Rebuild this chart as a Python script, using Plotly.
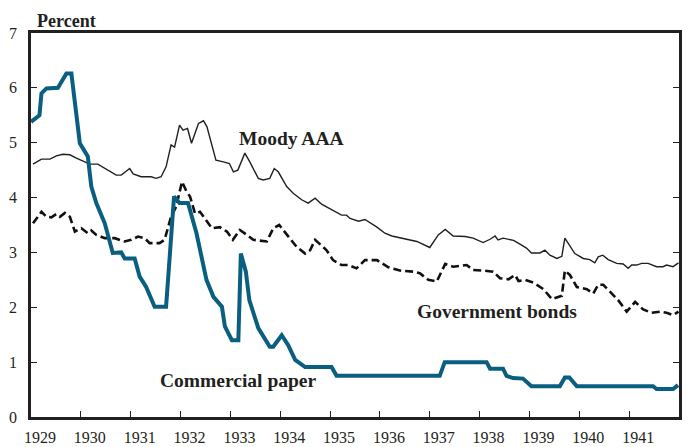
import plotly.graph_objects as go

# Moody AAA
aaa_x = [1929.04, 1929.21, 1929.38, 1929.51, 1929.64, 1929.78, 1929.91, 1930.04, 1930.18, 1930.34,
         1930.55, 1930.71, 1930.81, 1930.98, 1931.05, 1931.21, 1931.41, 1931.51, 1931.61, 1931.71,
         1931.81, 1931.88, 1931.98, 1932.05, 1932.14, 1932.22, 1932.36, 1932.46, 1932.53, 1932.71,
         1932.86, 1932.98, 1933.06, 1933.15, 1933.29, 1933.39, 1933.56, 1933.66, 1933.79, 1933.88,
         1933.96, 1934.13, 1934.26, 1934.43, 1934.56, 1934.70, 1934.83, 1935.00, 1935.23, 1935.33,
         1935.40, 1935.57, 1935.70, 1935.94, 1936.10, 1936.24, 1936.47, 1936.74, 1937.00, 1937.17,
         1937.31, 1937.47, 1937.71, 1937.87, 1938.07, 1938.21, 1938.31, 1938.37, 1938.47, 1938.68,
         1938.81, 1938.94, 1939.04, 1939.21, 1939.31, 1939.41, 1939.55, 1939.65, 1939.71, 1939.80,
         1939.91, 1940.08, 1940.21, 1940.31, 1940.38, 1940.47, 1940.58, 1940.75, 1940.88, 1940.98,
         1941.05, 1941.15, 1941.25, 1941.38, 1941.55, 1941.68, 1941.75, 1941.88, 1941.99]
aaa_y = [4.61, 4.70, 4.70, 4.76, 4.79, 4.78, 4.72, 4.67, 4.61, 4.61,
         4.50, 4.41, 4.41, 4.53, 4.43, 4.38, 4.38, 4.35, 4.38, 4.56,
         4.96, 4.92, 5.32, 5.23, 5.26, 4.99, 5.35, 5.40, 5.29, 4.68,
         4.65, 4.62, 4.47, 4.50, 4.81, 4.65, 4.35, 4.32, 4.35, 4.53,
         4.47, 4.20, 4.08, 3.96, 3.90, 3.99, 3.88, 3.80, 3.68, 3.68,
         3.62, 3.57, 3.60, 3.46, 3.35, 3.30, 3.26, 3.20, 3.09, 3.32,
         3.42, 3.30, 3.29, 3.26, 3.18, 3.24, 3.30, 3.23, 3.26, 3.22,
         3.15, 3.08, 2.99, 2.99, 3.04, 2.95, 2.89, 2.93, 3.26, 3.14,
         2.98, 2.89, 2.87, 2.81, 2.92, 2.95, 2.87, 2.80, 2.79, 2.71,
         2.77, 2.77, 2.80, 2.80, 2.74, 2.74, 2.77, 2.74, 2.81]

# Government bonds
gov_x = [1929.04, 1929.21, 1929.31, 1929.41, 1929.51, 1929.58, 1929.68, 1929.78, 1929.88, 1930.01,
         1930.14, 1930.21, 1930.31, 1930.48, 1930.68, 1930.88, 1931.01, 1931.15, 1931.28, 1931.38,
         1931.58, 1931.68, 1931.81, 1931.91, 1932.03, 1932.12, 1932.19, 1932.29, 1932.39, 1932.49,
         1932.63, 1932.79, 1932.93, 1933.05, 1933.19, 1933.33, 1933.46, 1933.73, 1933.86, 1933.98,
         1934.16, 1934.33, 1934.50, 1934.60, 1934.70, 1934.80, 1934.93, 1935.06, 1935.23, 1935.37,
         1935.53, 1935.70, 1935.94, 1936.17, 1936.40, 1936.67, 1936.80, 1936.97, 1937.14, 1937.31,
         1937.47, 1937.74, 1937.87, 1938.07, 1938.27, 1938.41, 1938.58, 1938.71, 1938.78, 1938.91,
         1939.08, 1939.28, 1939.45, 1939.65, 1939.71, 1939.81, 1939.95, 1940.15, 1940.28, 1940.38,
         1940.48, 1940.62, 1940.78, 1940.95, 1941.12, 1941.28, 1941.45, 1941.62, 1941.75, 1941.88,
         1941.99]
gov_y = [3.53, 3.74, 3.65, 3.64, 3.70, 3.65, 3.72, 3.65, 3.38, 3.44,
         3.35, 3.40, 3.32, 3.26, 3.26, 3.20, 3.23, 3.29, 3.26, 3.17,
         3.17, 3.23, 3.65, 3.83, 4.29, 4.11, 4.02, 3.71, 3.74, 3.62,
         3.44, 3.46, 3.38, 3.23, 3.41, 3.32, 3.23, 3.20, 3.44, 3.50,
         3.29, 3.10, 2.98, 3.04, 3.23, 3.14, 3.04, 2.86, 2.77, 2.77,
         2.71, 2.86, 2.86, 2.73, 2.67, 2.65, 2.62, 2.50, 2.47, 2.79,
         2.74, 2.77, 2.68, 2.67, 2.65, 2.53, 2.51, 2.59, 2.48, 2.50,
         2.45, 2.33, 2.15, 2.21, 2.67, 2.59, 2.37, 2.33, 2.25, 2.41,
         2.41, 2.28, 2.13, 1.92, 2.10, 1.96, 1.90, 1.92, 1.90, 1.86,
         1.92]

# Commercial paper
cp_x = [1929.00, 1929.04, 1929.17, 1929.21, 1929.31, 1929.54, 1929.71, 1929.81, 1929.98, 1930.14,
        1930.21, 1930.31, 1930.48, 1930.64, 1930.81, 1930.88, 1931.08, 1931.18, 1931.31, 1931.48,
        1931.71, 1931.87, 1931.98, 1932.15, 1932.25, 1932.32, 1932.52, 1932.66, 1932.83, 1932.89,
        1933.03, 1933.16, 1933.21, 1933.31, 1933.38, 1933.56, 1933.79, 1933.86, 1934.03, 1934.16,
        1934.30, 1934.50, 1935.03, 1935.13, 1937.20, 1937.30, 1938.14, 1938.21, 1938.47, 1938.54,
        1938.67, 1938.87, 1939.04, 1939.61, 1939.71, 1939.80, 1939.95, 1941.48, 1941.55, 1941.88,
        1941.98]
cp_y = [5.38, 5.41, 5.50, 5.90, 5.99, 6.00, 6.26, 6.26, 4.99, 4.75,
        4.20, 3.90, 3.53, 2.99, 3.00, 2.89, 2.89, 2.56, 2.37, 2.01,
        2.01, 4.02, 3.90, 3.90, 3.59, 3.35, 2.50, 2.19, 2.01, 1.65,
        1.40, 1.40, 2.98, 2.65, 2.13, 1.62, 1.28, 1.28, 1.49, 1.31,
        1.04, 0.91, 0.91, 0.75, 0.75, 1.00, 1.00, 0.88, 0.88, 0.75,
        0.71, 0.70, 0.56, 0.56, 0.72, 0.72, 0.56, 0.56, 0.51, 0.51,
        0.58]

year_ticks = list(range(1929, 1942))
y_ticks = [0, 1, 2, 3, 4, 5, 6, 7]

INK = "#231f20"
BLUE = "#0a5f80"
FONT = "Liberation Serif"

fig = go.Figure()
fig.add_trace(go.Scatter(x=aaa_x, y=aaa_y, mode="lines",
                         line=dict(color=INK, width=1.4), hoverinfo="skip"))
fig.add_trace(go.Scatter(x=gov_x, y=gov_y, mode="lines",
                         line=dict(color="#111111", width=2.6, dash="8px,4px"), hoverinfo="skip"))
fig.add_trace(go.Scatter(x=cp_x, y=cp_y, mode="lines",
                         line=dict(color=BLUE, width=4), hoverinfo="skip"))
# invisible trace to carry the right-hand axis
fig.add_trace(go.Scatter(x=aaa_x, y=aaa_y, mode="lines", yaxis="y2",
                         line=dict(width=0), opacity=0, hoverinfo="skip"))

labels = [("Moody AAA", 1934.23, 5.07), ("Government bonds", 1938.35, 1.93),
          ("Commercial paper", 1933.15, 0.67)]
for txt, lx, ly in labels:
    fig.add_annotation(x=lx, y=ly, text=txt, showarrow=False,
                       font=dict(family=FONT, size=19.5, color=INK, weight="bold"))

fig.add_annotation(xref="paper", yref="paper", x=0.006, y=1.063, xanchor="left", yanchor="top",
                   text="Percent", showarrow=False,
                   font=dict(family=FONT, size=18, color=INK, weight="bold"))

axis_font = dict(family=FONT, size=16, color=INK)
# the page body adds an 8 px offset, so the figure is sized to the remaining window
fig.update_layout(
    width=690, height=439,
    margin=dict(l=23, r=19, t=25, b=30),
    paper_bgcolor="white", plot_bgcolor="white",
    showlegend=False,
    xaxis=dict(range=[1929, 1942], tickvals=year_ticks, ticktext=[str(y) for y in year_ticks],
               ticks="inside", ticklen=6, tickwidth=1.2, tickcolor=INK,
               showline=True, linecolor=INK, linewidth=2.8, mirror=True,
               showgrid=False, zeroline=False, tickfont=axis_font, automargin=False,
               ticklabelshift=9, ticklabelstandoff=4),
    yaxis=dict(range=[0, 7], tickvals=y_ticks, ticks="inside", ticklen=6, tickwidth=1.2,
               tickcolor=INK, showline=True, linecolor=INK, linewidth=2.8, automargin=False,
               showgrid=False, zeroline=False, tickfont=axis_font, ticklabelstandoff=8),
    yaxis2=dict(range=[0, 7], tickvals=y_ticks, overlaying="y", side="right", anchor="x",
                ticks="inside", ticklen=6, tickwidth=1.2, tickcolor=INK, automargin=False,
                showline=True, linecolor=INK, linewidth=2.8,
                showgrid=False, zeroline=False, tickfont=axis_font, ticklabelstandoff=6),
)

fig.write_html("out.html")
